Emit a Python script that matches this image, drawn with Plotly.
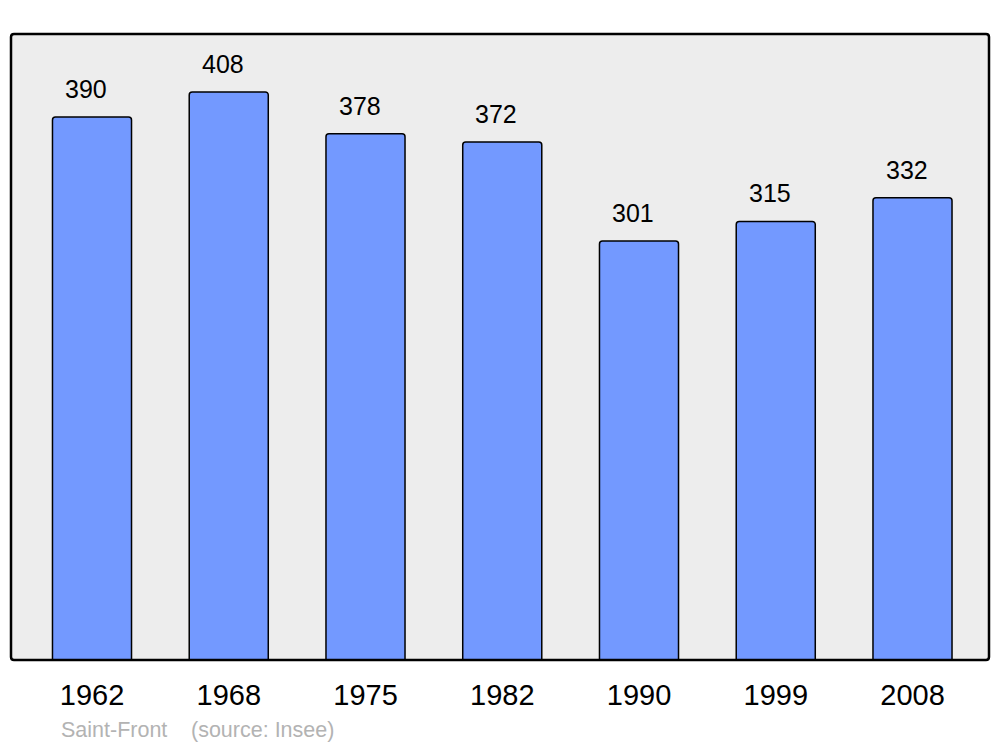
import plotly.graph_objects as go

years = ["1962", "1968", "1975", "1982", "1990", "1999", "2008"]
population = [390, 408, 378, 372, 301, 315, 332]
commune = "Saint-Front"
source = "(source: Insee)"

# browser body has an 8px default margin; compensate
W, H = 992, 739
L, R, T, B = 3, 11, 26, 87
pw, ph = W - L - R, H - T - B
OX, OY = 8 + L, 8 + T  # page pixel of plot top-left

xpos = list(range(len(years)))

fig = go.Figure()
fig.add_trace(go.Bar(
    x=xpos, y=population, width=0.578,
    marker=dict(color="#7399ff", line=dict(color="#000000", width=1.5), cornerradius=3),
    hoverinfo="skip",
))

for xi, v in zip(xpos, population):
    fig.add_annotation(x=xi, y=v, text=str(v), showarrow=False,
                       xanchor="center", yanchor="middle", yshift=28, xshift=-6,
                       font=dict(family="Liberation Sans, Arial", size=25, color="#000000"))

fy = (OY + ph - 730) / ph
fig.add_annotation(xref="paper", yref="paper", x=(59 - OX) / pw, y=fy,
                   text=commune, showarrow=False, xanchor="left", yanchor="middle",
                   font=dict(family="Liberation Sans, Arial", size=21.5, color="#b3b3b3"))
fig.add_annotation(xref="paper", yref="paper", x=(189 - OX) / pw, y=fy,
                   text=source, showarrow=False, xanchor="left", yanchor="middle",
                   font=dict(family="Liberation Sans, Arial", size=21.5, color="#b3b3b3"))

# rounded border of plot area
rx, ry = 3 / pw, 3 / ph
path = (f"M {rx},0 L {1-rx},0 Q 1,0 1,{ry} L 1,{1-ry} Q 1,1 {1-rx},1 "
        f"L {rx},1 Q 0,1 0,{1-ry} L 0,{ry} Q 0,0 {rx},0 Z")
fig.add_shape(type="path", xref="paper", yref="paper", path=path,
              line=dict(color="#000000", width=2.5), layer="above")

fig.update_layout(
    width=W, height=H,
    margin=dict(l=L, r=R, t=T, b=B),
    paper_bgcolor="#ffffff", plot_bgcolor="#ededed",
    showlegend=False,
    xaxis=dict(range=[-0.5923, 6.5594], tickvals=xpos, ticktext=years,
               showgrid=False, zeroline=False, showline=False, ticks="",
               ticklabelstandoff=15,
               tickfont=dict(family="Liberation Sans, Arial", size=29, color="#000000")),
    yaxis=dict(range=[0, 449.6], showgrid=False, zeroline=False, showline=False,
               showticklabels=False, ticks=""),
)

fig.write_html("out.html")
